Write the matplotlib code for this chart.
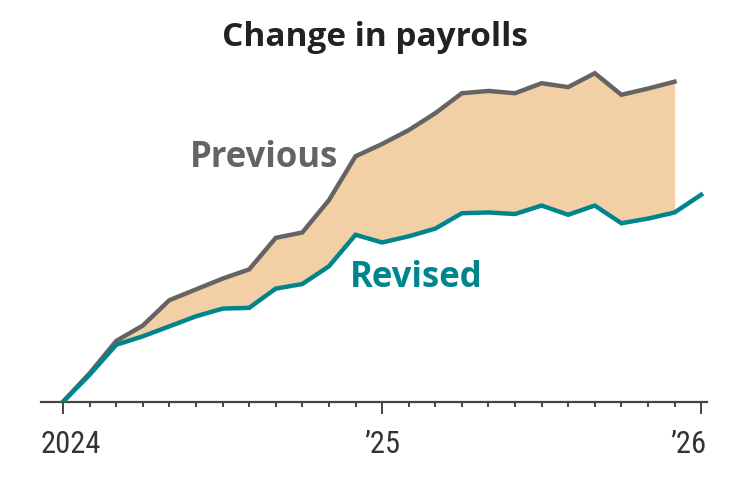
import matplotlib
matplotlib.use('Agg')
import matplotlib.pyplot as plt
from matplotlib import font_manager
import numpy as np

# cumulative change in payrolls since start of 2024, thousands
previous = [0, 185, 395, 495, 660, 730, 800, 860, 1065, 1100, 1310, 1595,
            1675, 1765, 1875, 2005, 2020, 2005, 2070, 2045, 2135, 1995, 2035, 2080]
revised = [0, 175, 370, 425, 490, 555, 605, 610, 735, 765, 880, 1085,
           1035, 1075, 1125, 1225, 1230, 1220, 1275, 1215, 1275, 1160, 1190, 1230, 1345]
year_labels = ['2024', '\u201925', '\u201926']
year_months = [0, 12, 24]

names = {f.name for f in font_manager.fontManager.ttflist}
def pick(*fams):
    for f in fams:
        if f in names:
            return f
    return 'DejaVu Sans'

bold_font = pick('Open Sans', 'Lato', 'Noto Sans')
tick_font = pick('Liberation Sans Narrow', 'Roboto Condensed', 'Liberation Sans')

GRAY = '#646464'
TEAL = '#00858c'
FILL = '#f3cfa6'

fig = plt.figure(figsize=(7.5, 4.8), dpi=100)
ax = fig.add_axes([41 / 750, 78.3 / 480, 665.7 / 750, 341.7 / 480])

xp = np.arange(len(previous))
xr = np.arange(len(revised))
ax.fill_between(xp, previous, revised[:len(previous)], color=FILL, lw=0, zorder=1)
ax.plot(xp, previous, color=GRAY, lw=3.2, solid_joinstyle='miter', zorder=3)
ax.plot(xr, revised, color=TEAL, lw=3.2, solid_joinstyle='miter', zorder=3)

ax.set_xlim(-0.83, 24.21)
ax.set_ylim(0, 2221)
for s in ['top', 'right', 'left']:
    ax.spines[s].set_visible(False)
ax.spines['bottom'].set_color('#444444')
ax.spines['bottom'].set_linewidth(1.6)
ax.spines['bottom'].set_zorder(2)
ax.set_yticks([])
ax.set_xticks(year_months)
ax.set_xticks(np.arange(25), minor=True)
ax.set_xticklabels([])
ax.tick_params(axis='x', which='major', length=8.5, width=1.4, color='#444444', direction='out')
ax.tick_params(axis='x', which='minor', length=3.8, width=1.4, color='#444444', direction='out')

has = ['left', 'center', 'right']
xs = [-0.83, 12, 24.21]
for lab, x, ha in zip(year_labels, xs, has):
    ax.annotate(lab, xy=(x, 0), xycoords=('data', 'axes fraction'),
                xytext=(0, -36.7), textcoords='offset points',
                ha=ha, va='baseline', fontsize=22, color='#333333',
                family=tick_font)

fig.text(0.5, (480 - 46) / 480, 'Change in payrolls', ha='center', va='baseline',
         fontsize=24, fontweight='bold', color='#222222', family=bold_font)
fig.text(190 / 750, (480 - 167) / 480, 'Previous', ha='left', va='baseline',
         fontsize=25, fontweight='bold', color=GRAY, family=bold_font)
fig.text(350 / 750, (480 - 286.7) / 480, 'Revised', ha='left', va='baseline',
         fontsize=25, fontweight='bold', color=TEAL, family=bold_font)

fig.savefig('out.png', dpi=100)
